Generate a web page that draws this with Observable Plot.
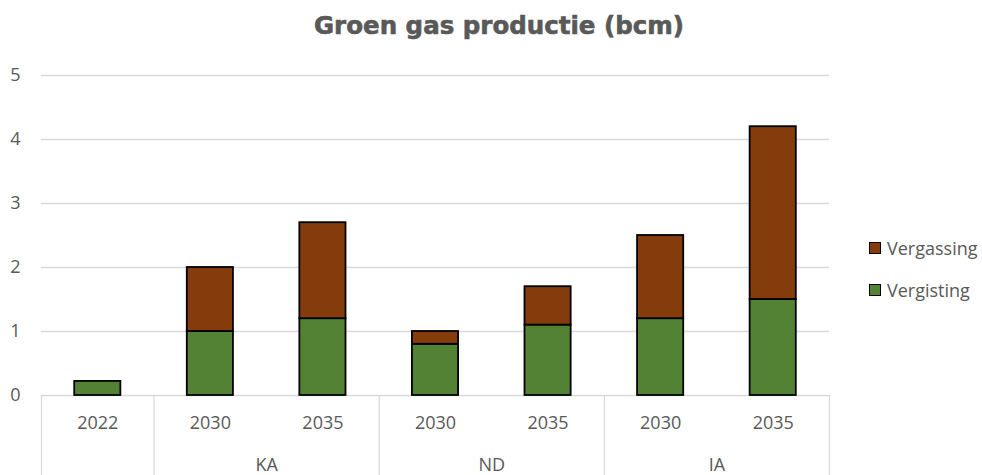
<!DOCTYPE html>
<html>
<head>
<meta charset="utf-8">
<script src="https://cdn.jsdelivr.net/npm/d3@7"></script>
<script src="https://cdn.jsdelivr.net/npm/@observablehq/plot@0.6"></script>
<style>
  html, body { margin: 0; padding: 0; background: #fff; }
  #wrap { position: relative; width: 982px; height: 475px; overflow: hidden; font-family: "Open Sans", sans-serif; color: #595959; }
  #title { position: absolute; top: 14px; left: 499px; transform: translateX(-50%); white-space: nowrap;
           font-family: "DejaVu Sans", sans-serif; font-weight: bold; font-size: 24.5px; line-height: 1; color: #595959;
           -webkit-text-stroke: 0.6px #595959; }
  #chart { position: absolute; top: 55px; left: 0; }
  .leg { position: absolute; left: 869px; height: 18px; display: flex; align-items: center; font-size: 18px; line-height: 1; white-space: nowrap; }
  .sw { width: 10px; height: 10px; border: 1.3px solid #000; margin-right: 6px; }
</style>
</head>
<body>
<div id="wrap">
  <div id="title">Groen gas productie (bcm)</div>
  <div id="chart"></div>
  <div id="legend"></div>
</div>
<script>
// ---- data ----
const categories = ["2022", "2030", "2035", "2030", "2035", "2030", "2035"];
const groups     = ["",     "KA",   "KA",   "ND",   "ND",   "IA",   "IA"];
const vergisting = [0.22, 1.0, 1.2, 0.8, 1.1, 1.2, 1.5];
const vergassing = [0,    1.0, 1.5, 0.2, 0.6, 1.3, 2.7];
const seriesNames = ["Vergisting", "Vergassing"];
const seriesColors = ["#548235", "#843C0C"];
const yTicks = [0, 1, 2, 3, 4, 5];

// ---- derived tables ----
const rows = [];
categories.forEach((c, i) => {
  if (vergisting[i] > 0) rows.push({i, series: "Vergisting", value: vergisting[i]});
  if (vergassing[i] > 0) rows.push({i, series: "Vergassing", value: vergassing[i]});
});
const groupNames = Array.from(new Set(groups.filter(g => g)));
const groupCenters = groupNames.map(g => d3.mean(groups.map((v, i) => v === g ? i : null).filter(v => v !== null)));
// boundaries between top-level groups
const boundaries = [-0.5];
groups.forEach((g, i) => { if (i > 0 && g !== groups[i - 1]) boundaries.push(i - 0.5); });
boundaries.push(categories.length - 0.5);

const half = 0.205;
const plot = Plot.plot({
  width: 982,
  height: 420,
  marginLeft: 41,
  marginRight: 153,
  marginTop: 20,
  marginBottom: 80,
  style: { fontFamily: "Open Sans", fontSize: "18px", color: "#595959", background: "transparent", overflow: "visible" },
  x: { domain: [-0.5, categories.length - 0.5] },
  y: { domain: [0, 5] },
  color: { domain: seriesNames, range: seriesColors },
  marks: [
    Plot.gridY(yTicks, { stroke: "#d9d9d9", strokeOpacity: 1, strokeWidth: 1.3 }),
    Plot.axisY({ ticks: yTicks, tickSize: 0, tickPadding: 21, tickFormat: d3.format("d"), label: null, fill: "#595959" }),
    Plot.rectY(rows, Plot.stackY({
      x1: d => d.i - half, x2: d => d.i + half, y: "value", fill: "series",
      stroke: "#000", strokeWidth: 1.8, order: seriesNames
    })),
    Plot.axisX({ ticks: boundaries, tickSize: 80, tickFormat: () => "", stroke: "#d9d9d9", strokeWidth: 1.3, label: null }),
    Plot.axisX({ ticks: d3.range(categories.length), tickSize: 0, tickPadding: 21, tickFormat: i => categories[i], label: null, fill: "#595959" }),
    Plot.axisX({ ticks: groupCenters, tickSize: 0, tickPadding: 63, tickFormat: (v) => groupNames[groupCenters.indexOf(v)], label: null, fill: "#595959" })
  ]
});
document.getElementById("chart").appendChild(plot);

// ---- legend (top entry = top of stack) ----
const legend = document.getElementById("legend");
const legendOrder = ["Vergassing", "Vergisting"];
const legendTops = [239, 281];
legendOrder.forEach((name, k) => {
  const el = document.createElement("div");
  el.className = "leg";
  el.style.top = legendTops[k] + "px";
  const sw = document.createElement("div");
  sw.className = "sw";
  sw.style.background = seriesColors[seriesNames.indexOf(name)];
  el.appendChild(sw);
  el.appendChild(document.createTextNode(name));
  legend.appendChild(el);
});
</script>
</body>
</html>
